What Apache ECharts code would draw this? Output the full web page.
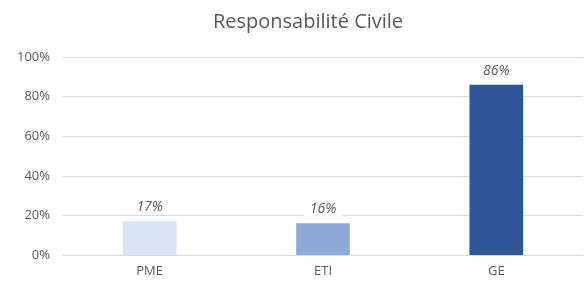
<!DOCTYPE html>
<html><head><meta charset="utf-8">
<script src="https://cdn.jsdelivr.net/npm/echarts@6/dist/echarts.min.js"></script>
<style>html,body{margin:0;padding:0;background:#fff}#c{width:584px;height:283px}</style>
</head><body><div id="c"></div>
<script>
const categories = ['PME', 'ETI', 'GE'];
const values = [17, 16, 86];
const barColors = ['#DAE3F3', '#8FAADC', '#2F5597'];
const yTicks = [0, 20, 40, 60, 80, 100];

const chart = echarts.init(document.getElementById('c'));
const font = '"Open Sans", "Noto Sans", sans-serif';
chart.setOption({
  animation: false,
  title: {
    text: 'Responsabilité Civile', left: 303, top: 7, textAlign: 'center',
    textStyle: { fontFamily: font, fontSize: 20, fontWeight: 'normal', color: '#595959' }
  },
  grid: { left: 63, right: 1, top: 57, bottom: 28 },
  xAxis: {
    type: 'category', data: categories,
    axisLine: { lineStyle: { color: '#D9D9D9', width: 1 } },
    axisTick: { show: false },
    axisLabel: { color: '#595959', fontFamily: font, fontSize: 13, margin: 10 }
  },
  yAxis: {
    type: 'value', min: 0, max: 100, interval: 20,
    axisLabel: { color: '#595959', fontFamily: font, fontSize: 13, margin: 13,
      formatter: v => yTicks.includes(v) ? v + '%' : '' },
    splitLine: { lineStyle: { color: '#D9D9D9', width: 1 } },
    axisLine: { show: false }, axisTick: { show: false }
  },
  series: [{
    type: 'bar', barWidth: '31%',
    data: values.map((v, i) => ({ value: v, itemStyle: { color: barColors[i] } })),
    label: {
      show: true, position: 'top', distance: 7, formatter: '{c}%',
      fontStyle: 'italic', fontFamily: font, fontSize: 14, color: '#595959',
      backgroundColor: '#fff', padding: [0, 6]
    }
  }]
});
</script></body></html>
